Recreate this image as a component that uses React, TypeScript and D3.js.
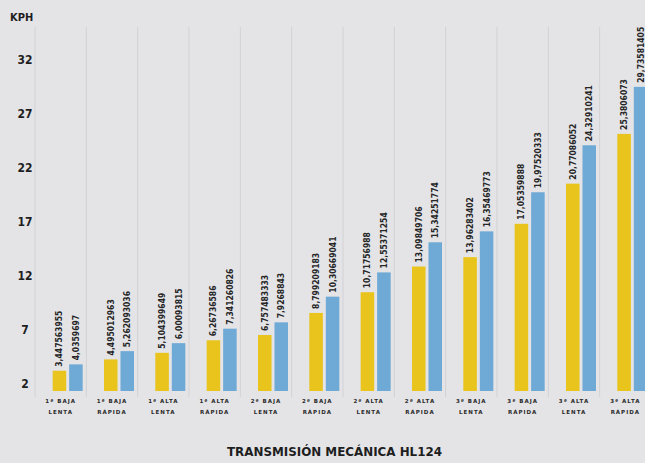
import React, { useEffect, useRef } from 'react';
import * as d3 from 'd3';

// marchas (dos líneas por etiqueta)
const categorias = [
    '1ª BAJA|LENTA', '1ª BAJA|RÁPIDA', '1ª ALTA|LENTA', '1ª ALTA|RÁPIDA',
    '2ª BAJA|LENTA', '2ª BAJA|RÁPIDA', '2ª ALTA|LENTA', '2ª ALTA|RÁPIDA',
    '3ª BAJA|LENTA', '3ª BAJA|RÁPIDA', '3ª ALTA|LENTA', '3ª ALTA|RÁPIDA',
];

// velocidades (amarillo / azul)
const valoresAmarillo = [
    3.447563955, 4.495012963, 5.104399649, 6.26736586, 6.757483333, 8.799209183,
    10.71756988, 13.09849706, 13.96283402, 17.05359888, 20.77086052, 25.3806073,
];
const valoresAzul = [
    4.0359697, 5.262093036, 6.00093815, 7.341260826, 7.9268843, 10.30669041,
    12.55371254, 15.34251774, 16.35469773, 19.97520333, 24.32910241, 29.73581405,
];
const etiquetasAmarillo = [
    '3,447563955', '4,495012963', '5,104399649', '6,26736586', '6,757483333', '8,799209183',
    '10,71756988', '13,09849706', '13,96283402', '17,05359888', '20,77086052', '25,3806073',
];
const etiquetasAzul = [
    '4,0359697', '5,262093036', '6,00093815', '7,341260826', '7,9268843', '10,30669041',
    '12,55371254', '15,34251774', '16,35469773', '19,97520333', '24,32910241', '29,73581405',
];

const ticksY = [2, 7, 12, 17, 22, 27, 32];
const titulo = 'TRANSMISIÓN MECÁNICA HL124';

const fuente = "'DejaVu Sans Condensed', Roboto, sans-serif";

const Chart = () => {
    const svgRef = useRef(null);

    useEffect(() => {
        const svg = d3.select(svgRef.current);
        svg.selectAll('*').remove();

        const width = 645;
        const height = 463;

        svg.append('rect').attr('width', width).attr('height', height).attr('fill', '#e4e4e7');

        const x = d3.scaleBand().domain(categorias).range([35, 651]);
        const y = d3.scaleLinear().domain([1.57, 35.28]).range([391, 27]);
        const serie = d3.scaleBand().domain(['amarillo', 'azul']).range([0, 30]).paddingInner(0.18);
        const offset = x.bandwidth() / 2 - 8;

        // líneas verticales entre marchas
        const lineas = categorias.map(c => x(c)).concat([x(categorias[11]) + x.step()]);
        svg.append('g').selectAll('line')
            .data(lineas)
            .join('line')
            .attr('x1', d => d).attr('x2', d => d)
            .attr('y1', 27).attr('y2', 397)
            .attr('stroke', '#d2d2d6')
            .attr('stroke-width', 1);

        // eje Y (solo texto)
        svg.append('text')
            .attr('x', 10).attr('y', 21)
            .attr('font-family', fuente)
            .attr('font-weight', 'bold')
            .attr('font-size', 11)
            .attr('fill', '#1e1e1e')
            .text('KPH');

        svg.append('g').selectAll('text')
            .data(ticksY)
            .join('text')
            .attr('x', 25)
            .attr('y', d => y(d) - 3)
            .attr('dy', '0.35em')
            .attr('text-anchor', 'middle')
            .attr('font-family', fuente)
            .attr('font-weight', 'bold')
            .attr('font-size', 12)
            .attr('fill', '#1e1e1e')
            .text(d => d);

        const series = [
            { key: 'amarillo', valores: valoresAmarillo, etiquetas: etiquetasAmarillo, color: '#e8c41c' },
            { key: 'azul', valores: valoresAzul, etiquetas: etiquetasAzul, color: '#6fa9d6' },
        ];

        series.forEach(s => {
            const g = svg.append('g');
            g.selectAll('rect')
                .data(s.valores)
                .join('rect')
                .attr('x', (d, i) => x(categorias[i]) + offset + serie(s.key))
                .attr('y', d => y(d))
                .attr('width', serie.bandwidth())
                .attr('height', d => y.range()[0] - y(d))
                .attr('fill', s.color);

            g.selectAll('text')
                .data(s.valores)
                .join('text')
                .attr('transform', (d, i) => {
                    const cx = x(categorias[i]) + offset + serie(s.key) + serie.bandwidth() / 2;
                    return `translate(${cx},${y(d) - 4}) rotate(-90)`;
                })
                .attr('dominant-baseline', 'central')
                .attr('font-family', fuente)
                .attr('font-weight', 'bold')
                .attr('font-size', 8.5)
                .attr('fill', '#262626')
                .text((d, i) => s.etiquetas[i]);
        });

        // etiquetas de marchas
        const cat = svg.append('g').selectAll('text')
            .data(categorias)
            .join('text')
            .attr('x', d => x(d) + x.bandwidth() / 2)
            .attr('y', 403)
            .attr('text-anchor', 'middle')
            .attr('font-family', 'DejaVu Sans')
            .attr('font-weight', 'bold')
            .attr('font-size', 5.5)
            .attr('letter-spacing', 1)
            .attr('fill', '#2a2a2a');
        cat.append('tspan').attr('x', d => x(d) + x.bandwidth() / 2).text(d => d.split('|')[0]);
        cat.append('tspan').attr('x', d => x(d) + x.bandwidth() / 2).attr('dy', 11).text(d => d.split('|')[1]);

        svg.append('text')
            .attr('x', 334.5).attr('y', 456)
            .attr('text-anchor', 'middle')
            .attr('font-family', fuente)
            .attr('font-weight', 'bold')
            .attr('font-size', 13)
            .attr('textLength', 215)
            .attr('lengthAdjust', 'spacingAndGlyphs')
            .attr('fill', '#1e1e1e')
            .text(titulo);
    }, []);

    return (
        <svg ref={svgRef} width={645} height={463} style={{ position: 'absolute', left: 0, top: 0 }} />
    );
};

export default function App() {
    return <Chart />;
}
